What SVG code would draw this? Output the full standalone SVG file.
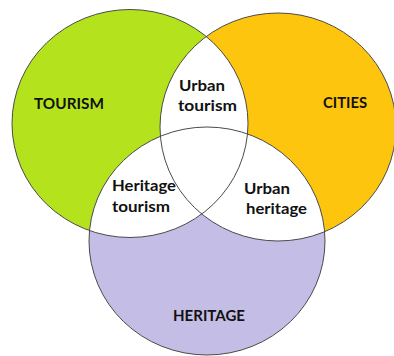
<svg xmlns="http://www.w3.org/2000/svg" width="394" height="356" viewBox="0 0 394 356">
<style>
.lbl{font-family:Lato,"Open Sans","Liberation Sans",sans-serif;font-weight:bold;font-size:15px;fill:#111}
.ol{fill:none;stroke:#4a4a4a;stroke-width:1}
</style>
<defs>
<ellipse id="eT" cx="130" cy="123.5" rx="118" ry="114"/>
<ellipse id="eC" cx="278" cy="127" rx="118" ry="114"/>
<ellipse id="eH" cx="207" cy="241" rx="118" ry="114"/>
<clipPath id="cC"><use href="#eC"/></clipPath>
<clipPath id="cH"><use href="#eH"/></clipPath>
</defs>
<rect width="394" height="356" fill="#fff"/>
<g id="tourism">
<use href="#eT" fill="#b4e31e"/>
</g>
<g id="cities">
<use href="#eC" fill="#fec50e"/>
</g>
<g id="heritage">
<use href="#eH" fill="#c4bde5"/>
</g>
<g id="overlaps" fill="#fff">
<use href="#eT" clip-path="url(#cC)"/>
<use href="#eT" clip-path="url(#cH)"/>
<use href="#eC" clip-path="url(#cH)"/>
</g>
<g id="outlines">
<use href="#eT" class="ol"/>
<use href="#eC" class="ol"/>
<use href="#eH" class="ol"/>
</g>
<g id="labels">
<text class="lbl" x="34" y="109" textLength="70" lengthAdjust="spacingAndGlyphs">TOURISM</text>
<text class="lbl" x="323" y="108" textLength="44" lengthAdjust="spacingAndGlyphs">CITIES</text>
<text class="lbl" x="173" y="321" textLength="72" lengthAdjust="spacingAndGlyphs">HERITAGE</text>
<text class="lbl" x="179" y="91" textLength="46" lengthAdjust="spacingAndGlyphs">Urban</text>
<text class="lbl" x="178" y="111" textLength="59" lengthAdjust="spacingAndGlyphs">tourism</text>
<text class="lbl" x="112" y="191" textLength="64" lengthAdjust="spacingAndGlyphs">Heritage</text>
<text class="lbl" x="112" y="212" textLength="58" lengthAdjust="spacingAndGlyphs">tourism</text>
<text class="lbl" x="244" y="194" textLength="46" lengthAdjust="spacingAndGlyphs">Urban</text>
<text class="lbl" x="246" y="214" textLength="61" lengthAdjust="spacingAndGlyphs">heritage</text>
</g>
</svg>
